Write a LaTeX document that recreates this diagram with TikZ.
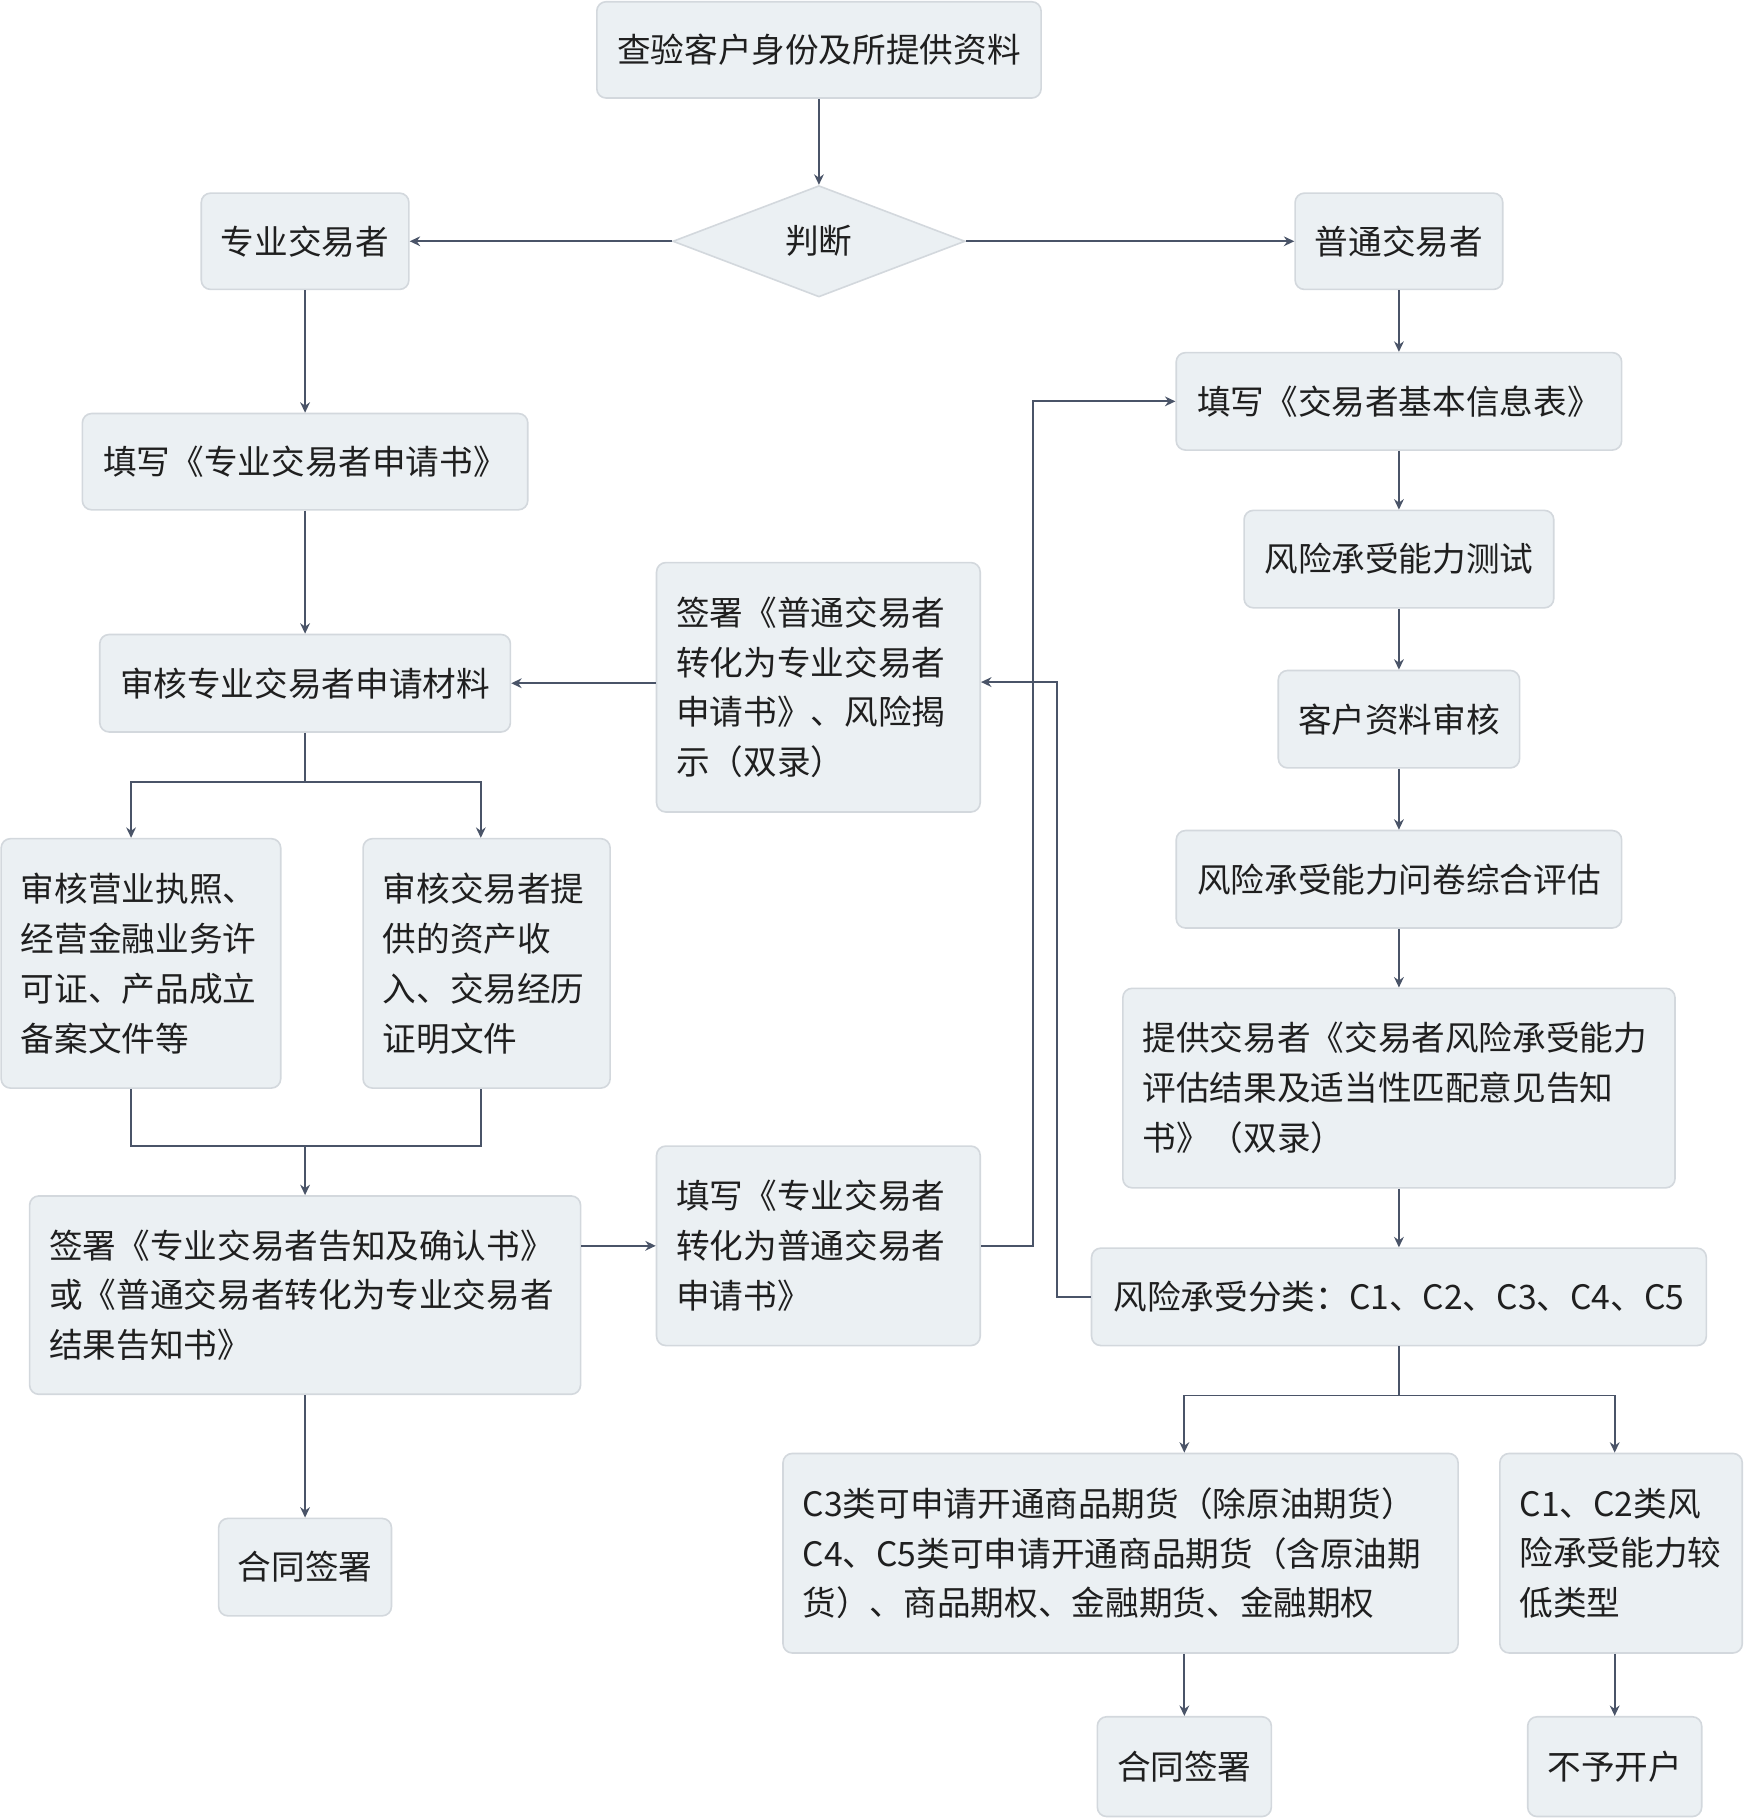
\documentclass[tikz,border=0pt]{standalone}
\usepackage{fontspec}
\setmainfont{Noto Sans CJK SC}
\usetikzlibrary{arrows.meta,shapes.geometric}
\definecolor{boxfill}{HTML}{EBF0F3}
\definecolor{boxline}{HTML}{D3D8DD}
\definecolor{flowc}{HTML}{4A5468}
\definecolor{textc}{HTML}{1F1F1F}

\begin{document}
\begin{tikzpicture}[x=0.5pt,y=-0.5pt,>={Stealth[length=4.5pt,width=4.2pt]},
   box/.style={draw=boxline,fill=boxfill,rounded corners=4pt,line width=0.7pt,
     align=left,text=textc,inner sep=0pt,font=\fontsize{14.5pt}{21.5pt}\selectfont},
   sz/.style 2 args={minimum width=#1*0.5pt,minimum height=#2*0.5pt},
   tsz/.style 2 args={sz={#1}{#2},text width=#1*0.5pt-17pt},
   flow/.style={draw=flowc,line width=0.8pt},
   every edge/.append style={flow}]
   \useasboundingbox (0,0) rectangle (1504,1569);
   % right column
   \node[box,sz={383}{83}] (chk) at (706,43) {查验客户身份及所提供资料};
   \node[box,shape=diamond,rounded corners=0pt,sz={252}{96}] (judge) at (706,208) {判断};
   \node[box,sz={179}{83}] (pro) at (263,208) {专业交易者};
   \node[box,sz={179}{83}] (ord) at (1206,208) {普通交易者};
   \node[box,sz={384}{84}] (infoTab) at (1206,346) {填写《交易者基本信息表》};
   \node[box,sz={267}{84}] (riskTest) at (1206,482) {风险承受能力测试};
   \node[box,sz={208}{84}] (dataChk) at (1206,620) {客户资料审核};
   \node[box,sz={384}{84}] (riskEval) at (1206,758) {风险承受能力问卷综合评估};
   \node[box,tsz={476}{172}] (riskBook) at (1206,938) {提供交易者《交易者风险承受能力\\评估结果及适当性匹配意见告知\\书》（双录）};
   \node[box,sz={530}{84}] (riskCls) at (1206,1118) {风险承受分类：C1、C2、C3、C4、C5};
   \node[box,tsz={582}{172}] (open) at (966,1339) {C3类可申请开通商品期货（除原油期货）\\C4、C5类可申请开通商品期货（含原油期\\货）、商品期权、金融期货、金融期权};
   \node[box,tsz={209}{172}] (low) at (1397.5,1339) {C1、C2类风\\险承受能力较\\低类型};
   \node[box,sz={150}{86}] (signR) at (1021,1523) {合同签署};
   \node[box,sz={150}{86}] (refuse) at (1392,1523) {不予开户};
   % left column
   \node[box,sz={384}{83}] (proApp) at (263,398) {填写《专业交易者申请书》};
   \node[box,sz={354}{84}] (proChk) at (263,589) {审核专业交易者申请材料};
   \node[box,tsz={279}{215}] (toPro) at (705.5,592.5) {签署《普通交易者\\转化为专业交易者\\申请书》、风险揭\\示（双录）};
   \node[box,tsz={241}{215}] (licChk) at (121.5,830.5) {审核营业执照、\\经营金融业务许\\可证、产品成立\\备案文件等};
   \node[box,tsz={213}{215}] (assetChk) at (419.5,830.5) {审核交易者提\\供的资产收\\入、交易经历\\证明文件};
   \node[box,tsz={475}{171}] (confirm) at (263,1116.5) {签署《专业交易者告知及确认书》\\或《普通交易者转化为专业交易者\\结果告知书》};
   \node[box,tsz={279}{172}] (toOrd) at (705.5,1074) {填写《专业交易者\\转化为普通交易者\\申请书》};
   \node[box,sz={149}{84}] (signL) at (263,1351) {合同签署};
   \coordinate (splitL) at (263,674);
   \coordinate (mergeL) at (263,988);
   \coordinate (splitR) at (1206,1203);
    \path[->]
    (chk) edge (judge)
    (judge) edge (pro)
            edge (ord)
    (pro) edge (proApp)
    (proApp) edge (proChk)
    (ord) edge (infoTab)
    (infoTab) edge (riskTest)
    (riskTest) edge (dataChk)
    (dataChk) edge (riskEval)
    (riskEval) edge (riskBook)
    (riskBook) edge (riskCls)
    (mergeL) edge (confirm)
    (confirm) edge (signL);
   \draw[flow,->] (toPro.west |- proChk.east) -- (proChk.east);
   \draw[flow] (proChk) -- (splitL);
   \draw[flow,->] (splitL) -| ([xshift=-4.25pt]licChk.north);
   \draw[flow,->] (splitL) -| ([xshift=-2.5pt]assetChk.north);
   \draw[flow] ([xshift=-4.25pt]licChk.south) |- (mergeL) -| ([xshift=-2.5pt]assetChk.south);
   \draw[flow,->] (confirm.east |- toOrd.west) -- (toOrd.west);
   \draw[flow,->] (toOrd.east) -- ++(45,0) |- (infoTab.west);
   \draw[flow,->] (riskCls.west) -- ++(-29,0) |- ([yshift=2.25pt]toPro.east);
   \draw[flow] (riskCls) -- (splitR);
   \draw[flow,->] (splitR) -| ([xshift=27.5pt]open.north);
   \draw[flow,->] (splitR) -| ([xshift=-2.75pt]low.north);
   \draw[flow,->] ([xshift=27.5pt]open.south) -- (signR.north);
   \draw[flow,->] ([xshift=-2.75pt]low.south) -- (refuse.north);
\end{tikzpicture}
\end{document}
